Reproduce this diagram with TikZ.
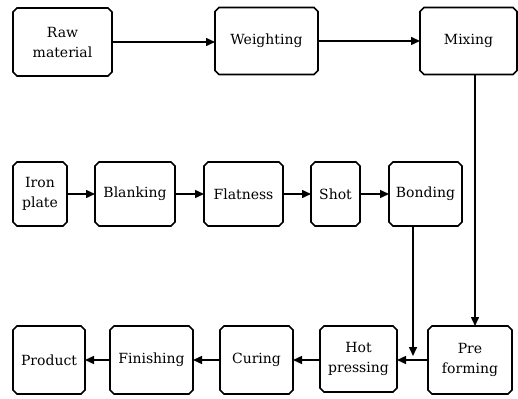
\documentclass[tikz,border=0pt]{standalone}
\usepackage{fontspec}
\setmainfont{DejaVu Serif}
\usetikzlibrary{arrows.meta,shapes.misc}
\tikzset{
  box/.style={draw=black, line width=1.7pt, chamfered rectangle, chamfered rectangle xsep=2pt, chamfered rectangle ysep=2pt,
    inner sep=0pt, outer sep=0pt, align=center, font=\fontsize{14}{20}\selectfont},
  arr/.style={line width=1.5pt, -{Triangle[length=9pt,width=8pt]}}
}
\begin{document}
\begin{tikzpicture}[x=1pt,y=-1pt]
\useasboundingbox (0,0) rectangle (518,398);
% row 1
\node[box, minimum width=99pt, minimum height=68pt] (raw) at (62.5,42) {Raw\\material};
\node[box, minimum width=103pt, minimum height=67pt] (wei) at (266.5,41) {Weighting};
\node[box, minimum width=97pt, minimum height=67pt] (mix) at (468.5,41) {Mixing};
% row 2
\node[box, minimum width=54pt, minimum height=64pt] (iron) at (40,194) {Iron\\plate};
\node[box, minimum width=80pt, minimum height=64pt] (blank) at (135,194) {Blanking};
\node[box, minimum width=79pt, minimum height=64pt] (flat) at (243.5,194) {Flatness};
\node[box, minimum width=49pt, minimum height=64pt] (shot) at (335.5,194) {Shot};
\node[box, minimum width=73pt, minimum height=64pt] (bond) at (425.5,194) {Bonding};
% row 3
\node[box, minimum width=72pt, minimum height=68pt] (prod) at (49,360) {Product};
\node[box, minimum width=83pt, minimum height=68pt] (fin) at (151.5,360) {Finishing};
\node[box, minimum width=73pt, minimum height=68pt] (cur) at (256.5,360) {Curing};
\node[box, minimum width=77pt, minimum height=66pt] (hot) at (358.5,359) {Hot\\pressing};
\node[box, minimum width=84pt, minimum height=68pt] (pre) at (470,360) {Pre\\forming};
\coordinate (tip) at (413,356);
% connectors
\draw[arr] (raw.east) -- (raw.east -| wei.west);
\draw[arr] (wei.east) -- (wei.east -| mix.west);
\draw[arr] ([xshift=6.5pt]mix.south) -- ([xshift=6.5pt]mix.south |- pre.north);
\draw[arr] (iron.east) -- (iron.east -| blank.west);
\draw[arr] (blank.east) -- (blank.east -| flat.west);
\draw[arr] (flat.east) -- (flat.east -| shot.west);
\draw[arr] (shot.east) -- (shot.east -| bond.west);
\draw[arr] (bond.south -| tip) -- (tip);
\draw[arr] (pre.west) -- (pre.west -| hot.east);
\draw[arr] (hot.west |- pre.west) -- (hot.west |- pre.west -| cur.east);
\draw[arr] (cur.west) -- (cur.west -| fin.east);
\draw[arr] (fin.west) -- (fin.west -| prod.east);
\end{tikzpicture}
\end{document}
